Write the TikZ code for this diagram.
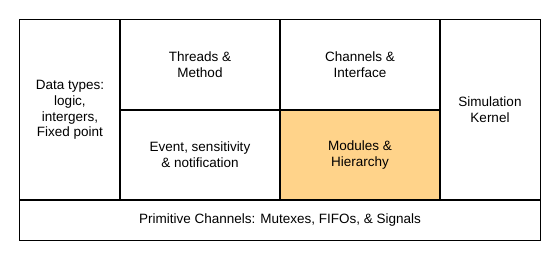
\documentclass[tikz,border=0pt]{standalone}
\usepackage{fontspec}
\setmainfont{Liberation Sans}
\definecolor{modfill}{RGB}{255,211,138}
\tikzset{
  cell/.style={inner sep=0pt, align=center, font=\fontsize{13.5}{15.8}\selectfont},
  divider/.style={line width=2pt}
}
\begin{document}
\begin{tikzpicture}[x=1pt,y=1pt]
\useasboundingbox (0,0) rectangle (560,-260);
\node[cell, fill=modfill, minimum width=160, minimum height=90] (modules) at (360,-155) {Modules \&\\Hierarchy};
\node[cell, minimum width=100, minimum height=180] (types) at (70,-110) {Data types:\\logic,\\intergers,\\Fixed point};
\node[cell, minimum width=160, minimum height=90] (threads) at (200,-65) {Threads \&\\Method};
\node[cell, minimum width=160, minimum height=90] (channels) at (360,-65) {Channels \&\\Interface};
\node[cell, minimum width=160, minimum height=90] (events) at (200,-155) {Event, sensitivity\\\& notification};
\node[cell, minimum width=100, minimum height=180] (kernel) at (490,-110) {Simulation\\Kernel};
\node[cell, minimum width=520, minimum height=40] (prims) at (280,-220) {Primitive Channels: Mutexes, FIFOs, \& Signals};
% thin outer frame
\draw[line width=1pt] (types.north west) rectangle (prims.south east);
% thick inner dividers
\draw[divider] (threads.north west) -- (events.south west);
\draw[divider] (channels.north west) -- (modules.south west);
\draw[divider] (kernel.north west) -- (kernel.south west);
\draw[divider] (threads.south west) -- (channels.south east);
\draw[divider] (prims.north west) -- (prims.north east);
\end{tikzpicture}
\end{document}
